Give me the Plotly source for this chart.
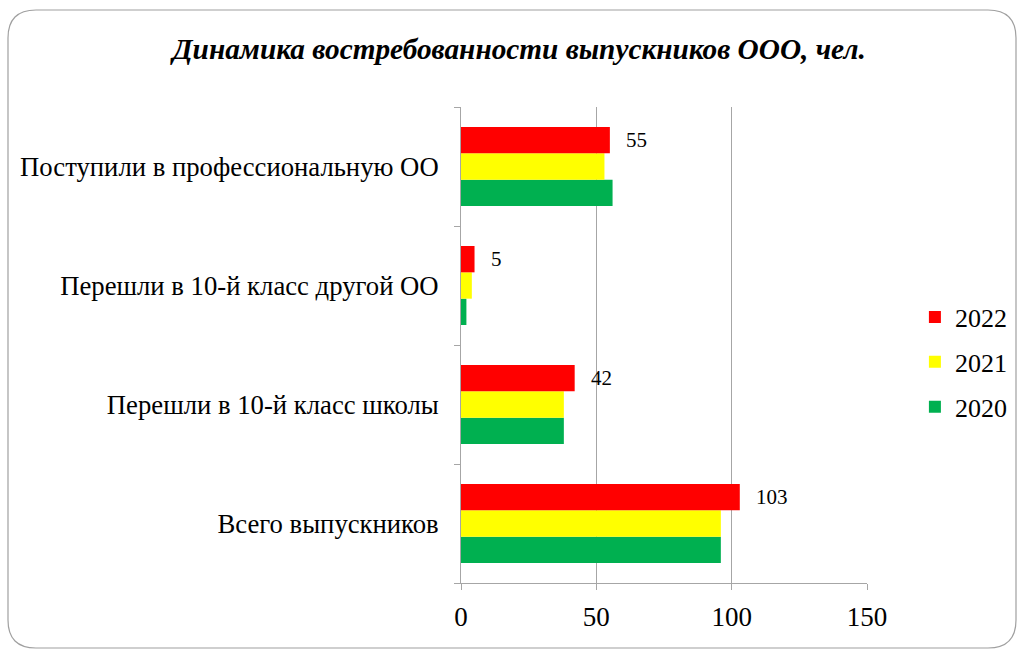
import plotly.graph_objects as go

# categories listed bottom -> top (plotly draws first category at the bottom)
categories = [
    "Всего выпускников",
    "Перешли в 10-й класс школы",
    "Перешли в 10-й класс другой ОО",
    "Поступили в профессиональную ОО",
]
years = ["2020", "2021", "2022"]
values_2020 = [96, 38, 2, 56]
values_2021 = [96, 38, 4, 53]
values_2022 = [103, 42, 5, 55]
colors = {"2020": "#00B050", "2021": "#FFFF00", "2022": "#FF0000"}
x_ticks = [0, 50, 100, 150]

series = {"2020": values_2020, "2021": values_2021, "2022": values_2022}

FONT = "Liberation Serif"

fig = go.Figure()
for i, y in enumerate(years):
    fig.add_trace(
        go.Bar(
            y=categories,
            x=series[y],
            name=y,
            orientation="h",
            marker=dict(color=colors[y], line=dict(width=0)),
            legendgroup=y,
            legendrank=len(years) - i,
            hoverinfo="x+name",
        )
    )

# value labels for 2022 only, a bit to the right of the bar end
for cat, v in zip(categories, values_2022):
    fig.add_annotation(
        x=v, y=cat, xref="x", yref="y",
        text=str(v), showarrow=False,
        xanchor="left", xshift=14, yshift=27,
        font=dict(family=FONT, size=21, color="#000"),
    )

# plot area in pixels: x 461..867, y 107..583
L, R, T, B = 461, 867, 107, 583
W, H = R - L, B - T


def px(x):
    return (x - L) / W


def py(y):
    return (B - y) / H


# rounded frame around the whole slide
x0, y0, x1, y1, r = 8, 10, 1016, 648, 28
path = (
    f"M {px(x0 + r)},{py(y0)} L {px(x1 - r)},{py(y0)} "
    f"Q {px(x1)},{py(y0)} {px(x1)},{py(y0 + r)} "
    f"L {px(x1)},{py(y1 - r)} Q {px(x1)},{py(y1)} {px(x1 - r)},{py(y1)} "
    f"L {px(x0 + r)},{py(y1)} Q {px(x0)},{py(y1)} {px(x0)},{py(y1 - r)} "
    f"L {px(x0)},{py(y0 + r)} Q {px(x0)},{py(y0)} {px(x0 + r)},{py(y0)} Z"
)
fig.add_shape(
    type="path", path=path, xref="paper", yref="paper",
    line=dict(color="#A0A0A0", width=1.2), layer="below",
)

fig.update_layout(
    width=1020,
    height=650,
    margin=dict(l=L, r=1020 - R, t=T, b=650 - B, autoexpand=False),
    paper_bgcolor="white",
    plot_bgcolor="white",
    barmode="group",
    bargap=0.336,
    bargroupgap=0,
    font=dict(family=FONT, size=20, color="#000"),
    title=dict(
        text="<b><i>Динамика востребованности выпускников ООО, чел.</i></b>",
        x=0.509, xanchor="center", xref="container",
        y=0.925, yanchor="middle", yref="container",
        font=dict(family=FONT, size=29.3, color="#000"),
    ),
    showlegend=True,
    legend=dict(
        x=1.118, y=0.464, xanchor="left", yanchor="middle",
        traceorder="grouped",
        tracegroupgap=8,
        font=dict(family=FONT, size=26),
        itemwidth=30,
        bgcolor="rgba(0,0,0,0)",
    ),
)

fig.update_xaxes(
    range=[0, 150],
    tickvals=x_ticks,
    showgrid=True,
    gridcolor="#A6A6A6",
    gridwidth=1,
    showline=True,
    linecolor="#A6A6A6",
    linewidth=1,
    ticks="outside",
    ticklen=6,
    tickcolor="#A6A6A6",
    ticklabelstandoff=4,
    zeroline=False,
    tickfont=dict(family=FONT, size=27),
)
fig.update_yaxes(
    showline=True,
    linecolor="#A6A6A6",
    linewidth=1,
    ticks="outside",
    tickson="boundaries",
    ticklen=6,
    tickcolor="#A6A6A6",
    ticklabelstandoff=16,
    showgrid=False,
    automargin=False,
    tickfont=dict(family=FONT, size=26.7),
)

fig.write_html(
    "out.html",
    config={"displayModeBar": False},
    post_script="document.body.style.margin='0';document.body.style.overflow='hidden';",
)
